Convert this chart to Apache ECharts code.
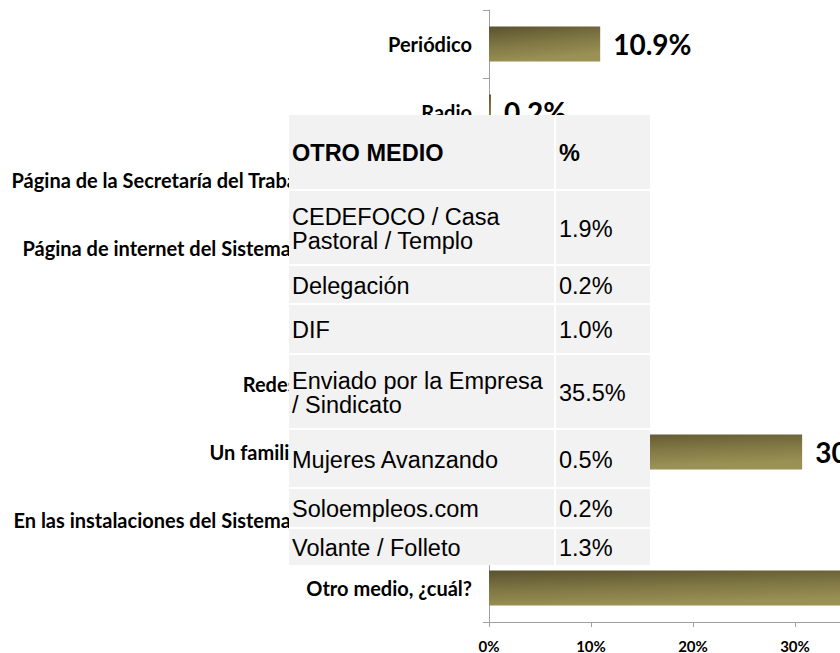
<!DOCTYPE html>
<html>
<head>
<meta charset="utf-8">
<script src="https://cdn.jsdelivr.net/npm/echarts@6/dist/echarts.min.js"></script>
<style>
html,body{margin:0;padding:0;background:#fff;}
#chart{width:840px;height:653px;}
</style>
</head>
<body>
<div id="chart"></div>
<script>
// ---- data ----
// NOTE: in the reference the table covers most of the chart. Labels marked (est.)
// are partly hidden, and their endings are guesses. Category 5 is fully hidden,
// so its name is a placeholder. Bars marked (est.) are hidden too, so their
// values are guesses that make the total 100%. "Otro medio" (40.6) is the sum
// of the table rows. "Un familiar" (30.7) was read from the bar length.
const categories = [
  'Periódico',
  'Radio',
  'Página de la Secretaría del Trabajo y Previsión Social',   // (est.) ending hidden
  'Página de internet del Sistema Nacional de Empleo',        // (est.) ending hidden
  'Televisión',                                              // (est.) label fully hidden
  'Redes sociales (Facebook)',                                // (est.) ending hidden
  'Un familiar, amigo o conocido',                            // (est.) ending hidden
  'En las instalaciones del Sistema Nacional de Empleo',      // (est.) ending hidden
  'Otro medio, ¿cuál?'
];
// indices 2,3,4,5,7 are hidden under the table in the reference: (est.)
const values = [10.9, 0.2, 1.2, 6.5, 0.5, 2.4, 30.7, 7.0, 40.6];
const xTicks = [0, 10, 20, 30, 40, 50];

const tableHeader = ['OTRO MEDIO', '%'];
const tableItems = ['CEDEFOCO / Casa\nPastoral / Templo', 'Delegación', 'DIF',
  'Enviado por la Empresa\n/ Sindicato', 'Mujeres Avanzando', 'Soloempleos.com', 'Volante / Folleto'];
const tablePcts = [1.9, 0.2, 1.0, 35.5, 0.5, 0.2, 1.3];

// ---- layout ----
const tableLeft = 289, tableTop = 115, col1W = 265, col2W = 94, gap = 2;
const rowHeights = [74, 73, 37, 48, 73, 57, 38, 36];
const tableH = rowHeights.reduce((a, b) => a + b, 0) + gap * (rowHeights.length - 1);

const graphics = [{
  type: 'rect', z: 99,
  shape: {x: tableLeft, y: tableTop, width: col1W + gap + col2W, height: tableH},
  style: {fill: '#ffffff'}
}];
let y = tableTop;
const rows = [[tableHeader[0], tableHeader[1], true]].concat(
  tableItems.map((t, i) => [t, tablePcts[i].toFixed(1) + '%', false]));
rows.forEach((r, i) => {
  const h = rowHeights[i];
  const cells = [[tableLeft, col1W, r[0]], [tableLeft + col1W + gap, col2W, r[1]]];
  cells.forEach(c => {
    graphics.push({
      type: 'rect', z: 100,
      shape: {x: c[0], y: y, width: c[1], height: h},
      style: {fill: '#f2f2f2'}
    });
    graphics.push({
      type: 'text', z: 101,
      x: c[0] + 3, y: y + h / 2 + 1,
      style: {
        text: c[2], fill: '#000',
        fontFamily: 'Liberation Sans', fontSize: 23.5,
        fontWeight: r[2] ? 'bold' : 'normal',
        lineHeight: 24,
        verticalAlign: 'middle', align: 'left'
      }
    });
  });
  y += h + gap;
});

const chart = echarts.init(document.getElementById('chart'), null, {renderer: 'svg'});
chart.setOption({
  animation: false,
  backgroundColor: '#fff',
  grid: {left: 489, top: 10, height: 612, width: 510, containLabel: false, outerBoundsMode: 'none'},
  xAxis: {
    type: 'value', min: xTicks[0], max: xTicks[xTicks.length - 1], interval: 10,
    axisLine: {show: true, lineStyle: {color: '#a0a0a0', width: 1}},
    axisTick: {show: true, length: 5, lineStyle: {color: '#a0a0a0'}},
    splitLine: {show: false},
    axisLabel: {
      formatter: v => v + '%', margin: 16, color: '#000',
      fontFamily: 'Lato', fontWeight: 'bold', fontSize: 15
    }
  },
  yAxis: {
    type: 'category', data: categories, inverse: true,
    axisLine: {show: true, lineStyle: {color: '#a0a0a0', width: 1}},
    axisTick: {show: true, length: 6, lineStyle: {color: '#a0a0a0'}},
    axisLabel: {
      margin: 17, color: '#000', fontFamily: 'Lato', fontWeight: 'bold', fontSize: 20
    }
  },
  series: [{
    type: 'bar', data: values, barWidth: 35, clip: false,
    itemStyle: {
      color: new echarts.graphic.LinearGradient(0, 0, 0.3, 1, [
        {offset: 0, color: '#5a5230'},
        {offset: 0.5, color: '#7e7543'},
        {offset: 1, color: '#9a9255'}
      ])
    },
    label: {
      show: true, position: 'right', distance: 13,
      formatter: p => p.value.toFixed(1) + '%',
      color: '#000', fontFamily: 'Lato', fontWeight: 'bold', fontSize: 28
    }
  }],
  graphic: graphics
});
</script>
</body>
</html>
